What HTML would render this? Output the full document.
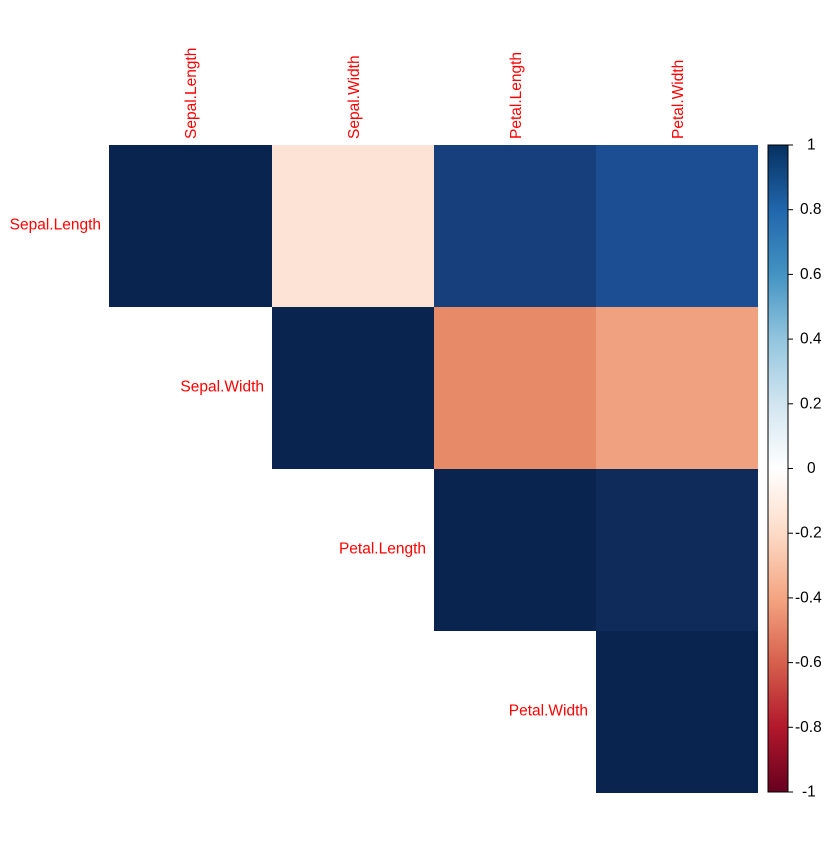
<!DOCTYPE html>
<html><head><style>body{margin:0;background:#fff}</style></head><body>
<svg width="840" height="840" xmlns="http://www.w3.org/2000/svg" font-family="Liberation Sans, sans-serif">
<defs>
<linearGradient id="g" x1="0" y1="1" x2="0" y2="0">
<stop offset="0" stop-color="#67001F"/><stop offset="0.1" stop-color="#B2182B"/><stop offset="0.2" stop-color="#D6604D"/><stop offset="0.3" stop-color="#F4A582"/><stop offset="0.4" stop-color="#FDDBC7"/><stop offset="0.5" stop-color="#FFFFFF"/><stop offset="0.6" stop-color="#D1E5F0"/><stop offset="0.7" stop-color="#92C5DE"/><stop offset="0.8" stop-color="#4393C3"/><stop offset="0.9" stop-color="#2166AC"/><stop offset="1" stop-color="#053061"/>
</linearGradient>
</defs>
<g shape-rendering="crispEdges">
<rect x="109" y="145" width="163" height="162" fill="#0A2450"/>
<rect x="272" y="145" width="162" height="162" fill="#FCE3D6"/>
<rect x="434" y="145" width="162" height="162" fill="#163F7B"/>
<rect x="596" y="145" width="162" height="162" fill="#1C4E94"/>
<rect x="272" y="307" width="162" height="162" fill="#0A2450"/>
<rect x="434" y="307" width="162" height="162" fill="#E78A68"/>
<rect x="596" y="307" width="162" height="162" fill="#F0A280"/>
<rect x="434" y="469" width="162" height="162" fill="#0A2450"/>
<rect x="596" y="469" width="162" height="162" fill="#0E2B5A"/>
<rect x="596" y="631" width="162" height="162" fill="#0A2450"/>
<rect x="768" y="145" width="20" height="647" fill="url(#g)"/>
</g>
<rect x="768" y="145" width="20" height="647" fill="none" stroke="#000" stroke-width="1"/>
<g stroke="#000" stroke-width="1">
<line x1="788" y1="145" x2="793" y2="145"/><line x1="788" y1="209.7" x2="793" y2="209.7"/><line x1="788" y1="274.4" x2="793" y2="274.4"/><line x1="788" y1="339.1" x2="793" y2="339.1"/><line x1="788" y1="403.8" x2="793" y2="403.8"/><line x1="788" y1="468.5" x2="793" y2="468.5"/><line x1="788" y1="533.2" x2="793" y2="533.2"/><line x1="788" y1="597.9" x2="793" y2="597.9"/><line x1="788" y1="662.6" x2="793" y2="662.6"/><line x1="788" y1="727.3" x2="793" y2="727.3"/><line x1="788" y1="792" x2="793" y2="792"/>
</g>
<g font-size="15.5" fill="#000" dominant-baseline="central">
<text x="807" y="145">1</text><text x="800" y="209.7">0.8</text><text x="800" y="274.4">0.6</text><text x="800" y="339.1">0.4</text><text x="800" y="403.8">0.2</text><text x="807" y="468.5">0</text><text x="795" y="533.2">-0.2</text><text x="795" y="597.9">-0.4</text><text x="795" y="662.6">-0.6</text><text x="795" y="727.3">-0.8</text><text x="802" y="792">-1</text>
</g>
<g font-size="15.5" fill="#FF0000" text-anchor="end" dominant-baseline="central">
<text x="101" y="225">Sepal.Length</text>
<text x="264" y="387">Sepal.Width</text>
<text x="426" y="549">Petal.Length</text>
<text x="588" y="711">Petal.Width</text>
</g>
<g font-size="15.5" fill="#FF0000" text-anchor="start">
<text transform="translate(196,139) rotate(-90)">Sepal.Length</text>
<text transform="translate(359,139) rotate(-90)">Sepal.Width</text>
<text transform="translate(521,139) rotate(-90)">Petal.Length</text>
<text transform="translate(683,139) rotate(-90)">Petal.Width</text>
</g>
</svg>
</body></html>
